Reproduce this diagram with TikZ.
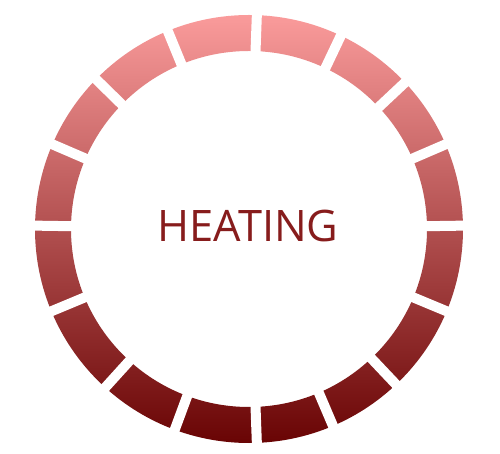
\documentclass[tikz,border=0pt]{standalone}
\usepackage{fontspec}
\setmainfont{Open Sans}
\usepackage{xcolor}
\definecolor{heatlight}{HTML}{FA9B9B}
\definecolor{heatdark}{HTML}{690404}
\definecolor{heattext}{HTML}{871C1C}

\begin{document}
\begin{tikzpicture}[
  x=1pt,
  y=1pt,
  every node/.style={font=\fontsize{43.4}{50}\selectfont}
]
  \def\outerring{(0,0) circle (214)}
  \def\innerring{(0,0) circle (178)}

  \useasboundingbox (-249,-225) rectangle (251,229);

  % ring with one gradient from top to bottom
  \shade[even odd rule, top color=heatlight, bottom color=heatdark]
    \outerring \innerring;

  % white cuts between the sixteen pieces
  \foreach \a in {0.9,23.3,43.2,64.6,87.9,112.3,135.6,156.7,
                  179.1,202.6,227.8,249.7,272.1,293.1,313.4,337.4}
    \draw[white, line width=10pt] (\a:170) -- (\a:222);

  \node[heattext] (label) at (-1,2.8) {HEATING};
\end{tikzpicture}
\end{document}
